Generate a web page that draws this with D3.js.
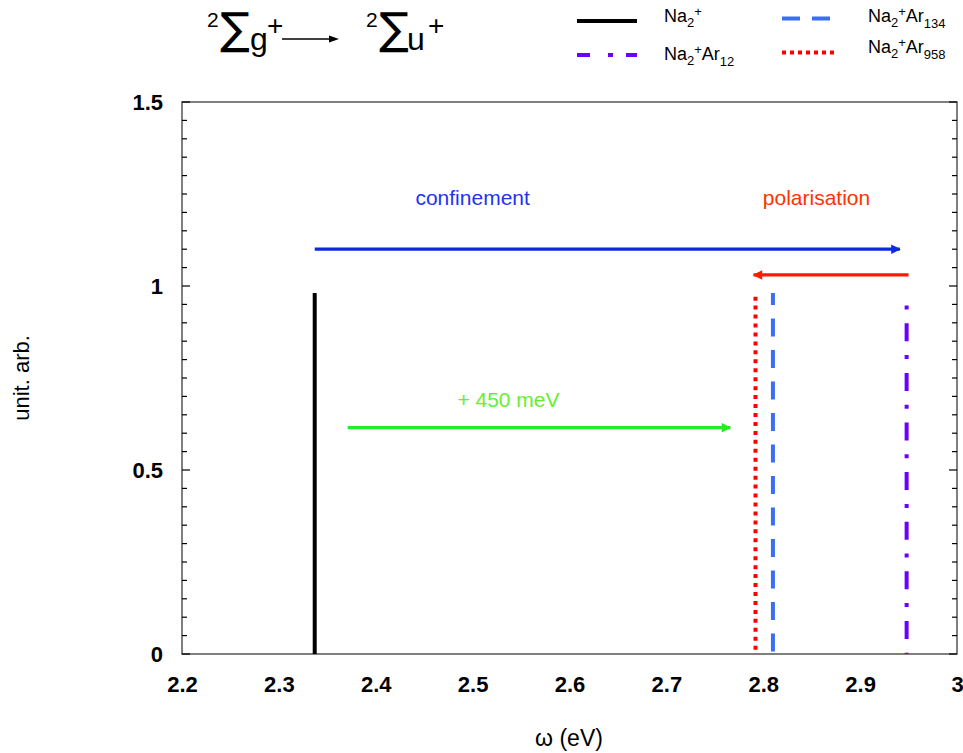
<!DOCTYPE html>
<html><head><meta charset="utf-8">
<script src="https://cdn.jsdelivr.net/npm/d3@7"></script>
<style>body{margin:0;background:#fff;} text{font-family:"Liberation Sans",Arial,sans-serif;}</style>
</head><body>
<svg id="c" width="963" height="753"></svg>
<script>
// Data
const seriesNames = ["Na2+", "Na2+Ar12", "Na2+Ar134", "Na2+Ar958"];
const peakOmega = [2.337, 2.948, 2.81, 2.792];
const peakHeight = [0.981, 0.947, 0.981, 0.971];
const xTicks = [2.2, 2.3, 2.4, 2.5, 2.6, 2.7, 2.8, 2.9, 3];
const yTicks = [0, 0.5, 1, 1.5];
const arrowNames = ["confinement", "polarisation", "+ 450 meV"];
const arrowFrom = [2.337, 2.95, 2.371];
const arrowTo = [2.941, 2.79, 2.766];
const arrowY = [1.10, 1.03, 0.615];
const labelX = [2.5, 2.855, 2.537];
const labelY = [1.22, 1.22, 0.67];

const svg = d3.select("#c");
const m = {l:182, r:957, t:102, b:654};
const x = d3.scaleLinear().domain([2.2,3]).range([m.l,m.r]);
const y = d3.scaleLinear().domain([0,1.5]).range([m.b,m.t]);

const colors = ["#000000", "#6a00ff", "#3a6ff5", "#ff0000"];
const dashes = [null, "4,13.8,18,13.8", "18,13.5", "4,4.95"];
const dashOff = [0, 0, 6, 0];

// frame
svg.append("rect").attr("x",m.l).attr("y",m.t).attr("width",m.r-m.l).attr("height",m.b-m.t)
  .attr("fill","none").attr("stroke","#555").attr("stroke-width",1.5);

// y ticks minor + major both sides
const minor = d3.range(0,1.5001,0.05);
minor.forEach(v=>{
  const major = Math.abs(v*2-Math.round(v*2))<1e-6;
  const len = major?8:5;
  svg.append("line").attr("x1",m.l).attr("x2",m.l+len).attr("y1",y(v)).attr("y2",y(v)).attr("stroke","#000").attr("stroke-width",1.2);
  svg.append("line").attr("x1",m.r).attr("x2",m.r-len).attr("y1",y(v)).attr("y2",y(v)).attr("stroke","#000").attr("stroke-width",1.2);
});
const yAxis = d3.axisLeft(y).tickValues(yTicks).tickSize(0).tickPadding(19).tickFormat(d=>d3.format("")(d));
const gy = svg.append("g").attr("transform",`translate(${m.l},0)`).call(yAxis);
gy.select(".domain").remove();
gy.selectAll("text").attr("font-size",22).attr("font-weight","bold").attr("font-family","Liberation Sans, Arial, sans-serif").attr("fill","#000");

const xAxis = d3.axisBottom(x).tickValues(xTicks).tickSize(0).tickPadding(22).tickFormat(d=>d3.format("")(d));
const gx = svg.append("g").attr("transform",`translate(0,${m.b})`).call(xAxis);
gx.select(".domain").remove();
gx.selectAll("text").attr("font-size",22).attr("font-weight","bold").attr("font-family","Liberation Sans, Arial, sans-serif").attr("fill","#000");

// axis labels
svg.append("text").attr("x",569).attr("y",746).attr("text-anchor","middle").attr("font-size",23).text("ω (eV)");
svg.append("text").attr("transform","translate(29,378) rotate(-90)").attr("text-anchor","middle").attr("font-size",22).text("unit. arb.");

// peaks (drawn from top down so dash pattern starts at the top)
const order = [0,3,2,1];
order.forEach(i=>{
  svg.append("line").attr("x1",x(peakOmega[i])).attr("x2",x(peakOmega[i]))
    .attr("y1",y(peakHeight[i])).attr("y2",y(0))
    .attr("stroke",colors[i]).attr("stroke-width",4)
    .attr("stroke-dasharray",dashes[i]).attr("stroke-dashoffset",dashOff[i]);
});

// arrows
const arrowColors = ["#0b2ae0", "#ff1a00", "#22ee22"];
const labelColors = ["#2233ee", "#ff3300", "#66ee33"];
const defs = svg.append("defs");
arrowColors.forEach((c,i)=>{
  defs.append("marker").attr("id","ah"+i).attr("viewBox","0 0 10 10").attr("refX",9).attr("refY",5)
    .attr("markerWidth",3.6).attr("markerHeight",3).attr("markerUnits","strokeWidth").attr("orient","auto")
    .append("path").attr("d","M0,0L10,5L0,10Z").attr("fill",c);
});
arrowNames.forEach((n,i)=>{
  svg.append("line").attr("x1",x(arrowFrom[i])).attr("x2",x(arrowTo[i]))
    .attr("y1",y(arrowY[i])).attr("y2",y(arrowY[i]))
    .attr("stroke",arrowColors[i]).attr("stroke-width",3.2).attr("marker-end",`url(#ah${i})`);
  svg.append("text").attr("x",x(labelX[i])).attr("y",y(labelY[i])).attr("text-anchor","middle")
    .attr("font-size",21).attr("fill",labelColors[i]).text(n);
});

// title: one text element per term, tspans positioned
function sig(x0, sub, xs, xp){
  const tt = svg.append("text");
  tt.append("tspan").attr("x",x0).attr("y",27).attr("font-size",21).text("2");
  tt.append("tspan").attr("x",x0+13).attr("y",44).attr("font-size",44).attr("font-family","DejaVu Sans").text("∑");
  tt.append("tspan").attr("x",xs).attr("y",50).attr("font-size",32).text(sub);
  tt.append("tspan").attr("x",xp).attr("y",35).attr("font-size",28).text("+");
}
sig(207,"g",250,267);
sig(366,"u",407,428);
svg.append("line").attr("x1",282).attr("x2",331).attr("y1",39).attr("y2",39).attr("stroke","#000").attr("stroke-width",1.3);
svg.append("path").attr("d","M339,39L329,35.5L329,42.5Z").attr("fill","#000");

// legend
const legX = [577, 577, 782, 782];
const legLen = [60, 60, 48, 56];
const legY = [21, 55, 18.5, 52.5];
const legDash = [null, "13,18,5,13,12", "18,12", "4,4"];
const txX = [664, 664, 868, 868];
const txY = [22, 60, 22, 53];
const subs = [["Na","2","+",""],["Na","2","+Ar","12"],["Na","2","+Ar","134"],["Na","2","+Ar","958"]];
seriesNames.forEach((s,i)=>{
  svg.append("line").attr("x1",legX[i]).attr("x2",legX[i]+legLen[i]).attr("y1",legY[i]).attr("y2",legY[i])
    .attr("stroke",colors[i]).attr("stroke-width",4).attr("stroke-dasharray",legDash[i]);
  const tx = svg.append("text").attr("x",txX[i]).attr("y",txY[i]).attr("font-size",18);
  const p = subs[i];
  tx.append("tspan").text(p[0]);
  tx.append("tspan").attr("font-size",13).attr("dy",5).text(p[1]);
  tx.append("tspan").attr("font-size",13).attr("dy",-11).text(p[2].slice(0,1));
  if(p[2].length>1){
    tx.append("tspan").attr("font-size",18).attr("dy",6).text(p[2].slice(1));
    tx.append("tspan").attr("font-size",13).attr("dy",6).text(p[3]);
  }
});
</script>
</body></html>
